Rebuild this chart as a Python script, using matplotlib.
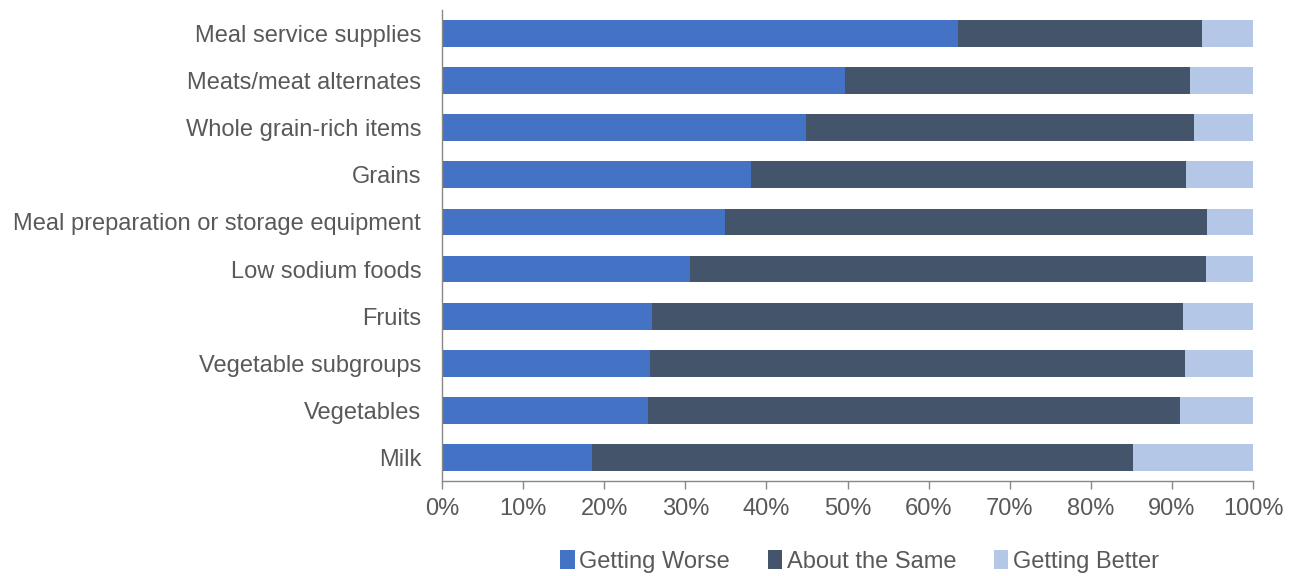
import matplotlib.pyplot as plt
import matplotlib as mpl
from matplotlib.ticker import PercentFormatter

mpl.rcParams['font.family'] = ['Liberation Sans', 'DejaVu Sans']
mpl.rcParams['font.size'] = 17

# data (percent), listed top to bottom
categories = ['Meal service supplies', 'Meats/meat alternates', 'Whole grain-rich items',
              'Grains', 'Meal preparation or storage equipment', 'Low sodium foods',
              'Fruits', 'Vegetable subgroups', 'Vegetables', 'Milk']
getting_worse = [63.6, 49.7, 44.9, 38.1, 34.9, 30.6, 25.9, 25.6, 25.4, 18.5]
about_same = [30.1, 42.5, 47.8, 53.6, 59.4, 63.6, 65.5, 66.0, 65.6, 66.7]
getting_better = [100 - w - s for w, s in zip(getting_worse, about_same)]

colors = ['#4472C4', '#44546A', '#B4C7E7']
text_color = '#595959'

fig = plt.figure(figsize=(12.95, 5.76), dpi=100)
ax = fig.add_axes([0.3413, 0.1649, 0.6263, 0.8177])

y = list(range(len(categories)))
h = 0.57
ax.barh(y, getting_worse, height=h, color=colors[0], label='Getting Worse')
ax.barh(y, about_same, left=getting_worse, height=h, color=colors[1], label='About the Same')
left2 = [w + s for w, s in zip(getting_worse, about_same)]
ax.barh(y, getting_better, left=left2, height=h, color=colors[2], label='Getting Better')

ax.set_yticks(y)
ax.set_yticklabels(categories, color=text_color)
ax.set_ylim(len(categories) - 0.5, -0.5)
ax.set_xlim(0, 100)
ax.set_xticks(range(0, 101, 10))
ax.xaxis.set_major_formatter(PercentFormatter(decimals=0))
ax.tick_params(axis='x', colors='#888888', labelcolor=text_color, length=6, width=1, pad=6)
ax.tick_params(axis='y', length=0, pad=15)

for side in ['top', 'right']:
    ax.spines[side].set_visible(False)
for side in ['left', 'bottom']:
    ax.spines[side].set_color('#888888')
    ax.spines[side].set_linewidth(1)

ax.legend(loc='center', bbox_to_anchor=(0.515, -0.17), ncol=3, frameon=False,
          handlelength=0.6, handleheight=0.9, handletextpad=0.2, columnspacing=1.6,
          labelcolor=text_color, borderpad=0)

plt.savefig('out.png', dpi=100)
